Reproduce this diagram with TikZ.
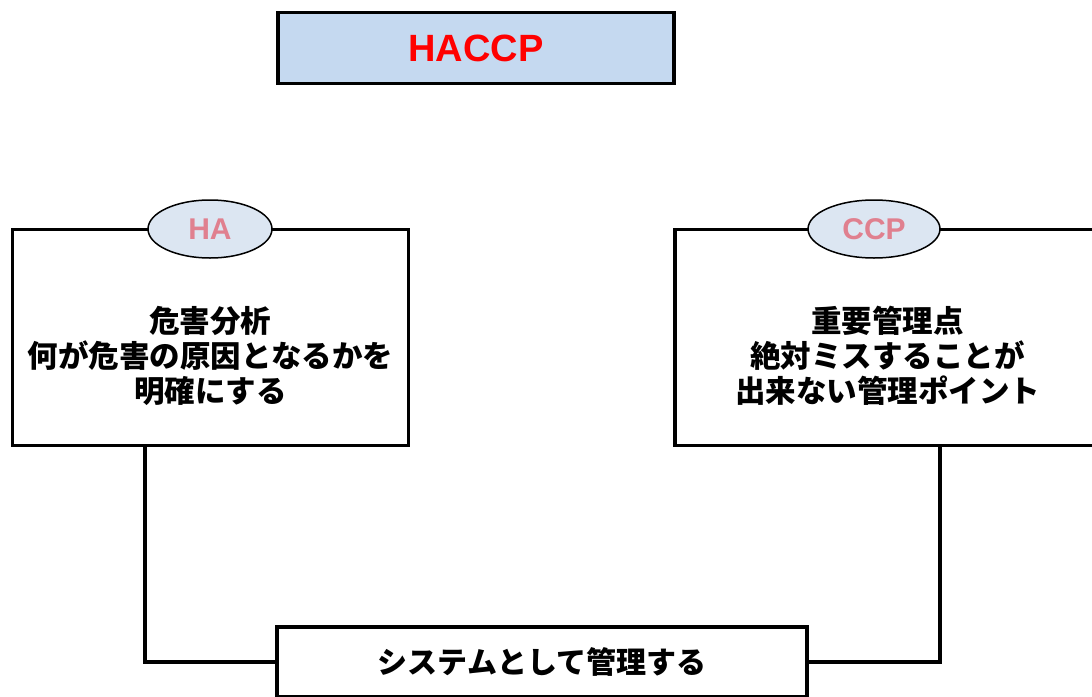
\documentclass[tikz,border=0pt]{standalone}
\usepackage{fontspec}
\setmainfont{Liberation Sans}
\newfontfamily\jp{Noto Sans CJK JP}
\usetikzlibrary{shapes.geometric}
\definecolor{haccpfill}{HTML}{C5D9F0}
\definecolor{ovalfill}{HTML}{DCE6F2}
\definecolor{ovaltext}{HTML}{E0808F}
\definecolor{titlered}{HTML}{FF0000}
\tikzset{
  mainbox/.style={draw=black, line width=3.2pt, fill=white, inner sep=0pt, outer sep=0pt},
  titlebox/.style={mainbox, fill=haccpfill, minimum width=396pt, minimum height=71pt},
  infobox/.style={mainbox, minimum height=216pt},
  infotext/.style={align=center, inner sep=0pt, font={\jp\bfseries\fontsize{30.5}{35}\selectfont}},
  oval/.style={ellipse, draw=black, line width=1.5pt, fill=ovalfill, inner sep=0pt, minimum height=58pt, text=ovaltext, font={\bfseries\fontsize{30}{30}\selectfont}},
  link/.style={draw=black, line width=3.2pt}
}
\begin{document}
\begin{tikzpicture}[x=1pt,y=-1pt]
\clip (0,0) rectangle (1092,696);
\fill[white] (0,0) rectangle (1092,696);
\node[titlebox, text=titlered, font={\bfseries\fontsize{38}{38}\selectfont}] (haccp) at (476,48) {HACCP};
\node[infobox, minimum width=396pt] (habox) at (210.5,337.5) {};
\node[infotext] (hatext) at ([yshift=-18pt]habox.center) {危害分析\\何が危害の原因となるかを\\明確にする};
\node[infobox, minimum width=425pt] (ccpbox) at (887.5,337.5) {};
\node[infotext] (ccptext) at ([yshift=-18pt]ccpbox.center) {重要管理点\\絶対ミスすることが\\出来ない管理ポイント};
\node[oval, minimum width=124pt] (ha) at (210,229) {HA};
\node[oval, minimum width=132pt] (ccp) at (874,229) {CCP};
\node[mainbox, minimum width=530pt, minimum height=70pt, font={\jp\bfseries\fontsize{30}{35}\selectfont}] (sys) at (542,662) {システムとして管理する};
\draw[link] ([xshift=-65.5pt]habox.south) |- (sys.west);
\draw[link] ([xshift=52.5pt]ccpbox.south) |- (sys.east);
\end{tikzpicture}
\end{document}
